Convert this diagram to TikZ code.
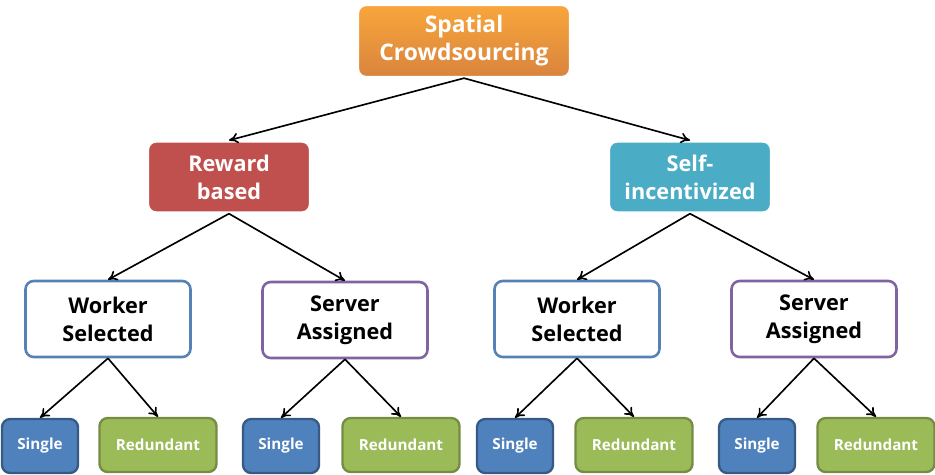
\documentclass[tikz,border=0pt]{standalone}
\usepackage{fontspec}
\setmainfont{Open Sans}
\usetikzlibrary{arrows.meta}

\definecolor{rootorange}{HTML}{F79646}
\definecolor{rewardred}{HTML}{C0504D}
\definecolor{selfteal}{HTML}{4BACC6}
\definecolor{singleblue}{HTML}{4F81BD}
\definecolor{redungreen}{HTML}{9BBB59}
\definecolor{serverpurple}{HTML}{8064A2}

\begin{document}
\begin{tikzpicture}[x=0.03cm, y=-0.03cm,
    box/.style={rounded corners=7pt, line width=2pt, align=center,
      inner sep=0pt, font=\bfseries},
    topbox/.style={box, draw=white, top color=rootorange!85!yellow,
      bottom color=rootorange!88!black, text=white,
      minimum width=6.36cm, minimum height=2.16cm,
      font=\bfseries\fontsize{19.5}{24}\selectfont},
    kindbox/.style={box, draw=white, text=white,
      minimum width=4.86cm, minimum height=2.13cm,
      font=\bfseries\fontsize{18.5}{24}\selectfont},
    modebox/.style={box, fill=white, text=black, line width=2.2pt,
      minimum width=4.95cm, minimum height=2.28cm,
      font=\bfseries\fontsize{18.5}{24}\selectfont},
    leafbox/.style={box, text=white, minimum height=1.62cm,
      font=\bfseries\fontsize{13}{15}\selectfont},
    single/.style={leafbox, fill=singleblue, draw=singleblue!70!black,
      minimum width=2.28cm},
    redundant/.style={leafbox, fill=redungreen, draw=redungreen!75!black,
      minimum width=3.51cm},
    link/.style={-{To[length=2.8mm, width=3.2mm]}, line width=1.4pt}]
  \useasboundingbox (0,0) rectangle (935,474);

  % ---- root ----
  \node[topbox] (sc) at (464, 41) {Spatial\\Crowdsourcing};

  % ---- second level ----
  \node[kindbox, fill=rewardred] (rb) at (229, 177) {Reward\\based};
  \node[kindbox, fill=selfteal] (si) at (690, 177) {Self-\\incentivized};

  % ---- third level ----
  \node[modebox, draw=singleblue!85!gray] (rbws) at (108, 319) {Worker\\Selected};
  \node[modebox, draw=serverpurple] (rbsa) at (345, 320) {Server\\Assigned};
  \node[modebox, draw=singleblue!85!gray] (siws) at (577, 319) {Worker\\Selected};
  \node[modebox, draw=serverpurple] (sisa) at (814, 319) {Server\\Assigned};

  % ---- leaves ----
  \foreach \p/\xs/\xr in {rbws/40/158, rbsa/281/401, siws/515/634, sisa/757/876}{%
    \node[single] (\p-s) at (\xs, 446) {Single};
    \node[redundant] (\p-r) at (\xr, 445) {Redundant};
    \draw[link] (\p.south) -- (\p-s.north);
    \draw[link] (\p.south) -- (\p-r.north);
  }

  % ---- links ----
  \draw[link] (sc.south) -- (rb.north);
  \draw[link] (sc.south) -- (si.north);
  \draw[link] (rb.south) -- (rbws.north);
  \draw[link] (rb.south) -- (rbsa.north);
  \draw[link] (si.south) -- (siws.north);
  \draw[link] (si.south) -- (sisa.north);
\end{tikzpicture}
\end{document}
